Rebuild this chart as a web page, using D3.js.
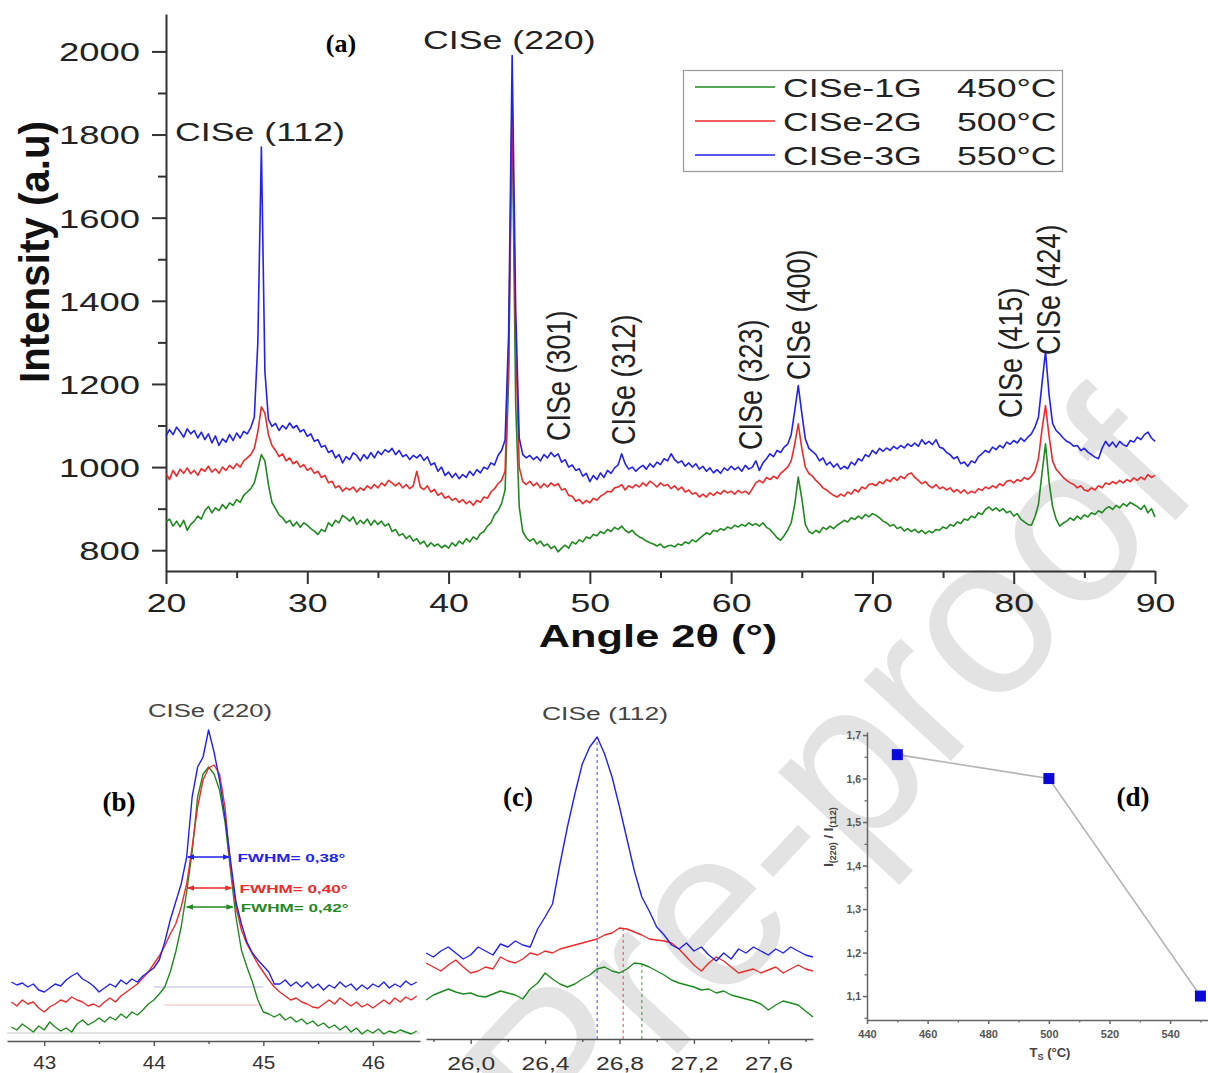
<!DOCTYPE html>
<html><head><meta charset="utf-8">
<script src="https://cdn.jsdelivr.net/npm/d3@7"></script>
<style>body{margin:0;background:#fff} svg{display:block}</style>
</head><body>
<svg id="chart" width="1208" height="1073"></svg>
<script>
// ---------------- DATA: panel (a) ----------------
const angles = [
20,20.25,20.5,20.75, 21,21.25,21.5,21.75, 22,22.25,22.5,22.75, 23,23.25,23.5,23.75, 24,24.25,24.5,24.75,
25,25.25,25.5,25.75, 26,26.25,26.5,26.75, 27,27.25,27.5,27.75, 28,28.25,28.5,28.75, 29,29.25,29.5,29.75,
30,30.25,30.5,30.75, 31,31.25,31.5,31.75, 32,32.25,32.5,32.75, 33,33.25,33.5,33.75, 34,34.25,34.5,34.75,
35,35.25,35.5,35.75, 36,36.25,36.5,36.75, 37,37.25,37.5,37.75, 38,38.25,38.5,38.75, 39,39.25,39.5,39.75,
40,40.25,40.5,40.75, 41,41.25,41.5,41.75, 42,42.25,42.5,42.75, 43,43.25,43.5,43.75, 44,44.25,44.5,44.75,
45,45.25,45.5,45.75, 46,46.25,46.5,46.75, 47,47.25,47.5,47.75, 48,48.25,48.5,48.75, 49,49.25,49.5,49.75,
50,50.25,50.5,50.75, 51,51.25,51.5,51.75, 52,52.25,52.5,52.75, 53,53.25,53.5,53.75, 54,54.25,54.5,54.75,
55,55.25,55.5,55.75, 56,56.25,56.5,56.75, 57,57.25,57.5,57.75, 58,58.25,58.5,58.75, 59,59.25,59.5,59.75,
60,60.25,60.5,60.75, 61,61.25,61.5,61.75, 62,62.25,62.5,62.75, 63,63.25,63.5,63.75, 64,64.25,64.5,64.75,
65,65.25,65.5,65.75, 66,66.25,66.5,66.75, 67,67.25,67.5,67.75, 68,68.25,68.5,68.75, 69,69.25,69.5,69.75,
70,70.25,70.5,70.75, 71,71.25,71.5,71.75, 72,72.25,72.5,72.75, 73,73.25,73.5,73.75, 74,74.25,74.5,74.75,
75,75.25,75.5,75.75, 76,76.25,76.5,76.75, 77,77.25,77.5,77.75, 78,78.25,78.5,78.75, 79,79.25,79.5,79.75,
80,80.25,80.5,80.75, 81,81.25,81.5,81.75, 82,82.25,82.5,82.75, 83,83.25,83.5,83.75, 84,84.25,84.5,84.75,
85,85.25,85.5,85.75, 86,86.25,86.5,86.75, 87,87.25,87.5,87.75, 88,88.25,88.5,88.75, 89,89.25,89.5,89.75,
90];
const cise3G = [ // blue, 550 °C
1075,1090,1078,1096, 1085,1072,1092,1080, 1088,1070,1084,1066, 1080,1058,1075,1052, 1068,1060,1078,1064,
1082,1070,1086,1080, 1095,1120,1300,1770, 1230,1115,1098,1105, 1088,1100,1092,1106, 1094,1100,1085,1090,
1074,1080,1062,1066, 1048,1052,1035,1040, 1022,1030,1010,1025, 1018,1034,1028,1015, 1030,1020,1035,1022,
1038,1030,1042,1036, 1045,1030,1040,1025, 1030,1018,1028,1022, 1030,1016,1025,1005, 1010,990,1000,980,
988,975,985,972, 982,975,990,980, 994,986,1000,995, 1010,1005,1028,1040, 1065,1320,1990,1380,
1070,1030,1022,1028, 1018,1025,1015,1030, 1022,1035,1025,1032, 1012,1018,1000,1005, 992,996,978,985,
965,980,970,986, 975,992,985,998, 1005,1032,1008,995, 1000,990,998,1004, 995,1008,1000,1012,
1006,1020,1015,1032, 1018,1010,1015,1002, 1010,1000,1008,995, 1002,990,998,986, 994,985,998,992,
1002,994,1000,990, 1004,995,1000,1015, 992,1010,1020,1032, 1025,1040,1035,1048, 1055,1078,1135,1196,
1130,1068,1045,1038, 1030,1015,1022,1005, 1012,1000,1008,995, 1002,996,1012,1005, 1020,1015,1030,1025,
1040,1032,1045,1038, 1046,1040,1050,1044, 1052,1046,1056,1050, 1058,1050,1066,1055, 1062,1054,1066,1048,
1045,1035,1030,1020, 1025,1008,1012,1002, 1015,1010,1025,1032, 1040,1035,1048,1042, 1052,1046,1060,1055,
1064,1058,1070,1062, 1072,1080,1096,1120, 1200,1278,1175,1105, 1088,1080,1070,1062, 1058,1050,1052,1040,
1045,1036,1030,1024, 1020,1045,1062,1050, 1060,1048,1062,1054, 1050,1064,1060,1072, 1066,1078,1084,1070,
1062];
const cise2G = [ // red, 500 °C
985,970,992,978, 995,985,998,984, 992,980,996,990, 1002,988,996,985, 1000,992,1004,996,
1008,1000,1015,1022, 1030,1045,1085,1145, 1130,1078,1052,1040, 1025,1032,1015,1022, 1008,1014,1000,1006,
992,998,985,990, 975,980,962,966, 950,955,942,950, 945,952,940,950, 944,955,948,958,
950,962,955,968, 962,955,962,950, 958,948,955,990, 952,946,955,940, 946,932,938,925,
930,920,925,915, 922,912,918,908, 920,915,928,925, 940,948,960,968, 990,1260,1880,1300,
1000,965,958,966, 955,962,950,960, 952,962,955,960, 945,948,932,930, 918,922,912,920,
914,925,920,930, 935,942,940,950, 952,958,945,955, 950,958,952,962, 955,966,960,952,
962,955,958,948, 955,945,952,940, 945,935,938,928, 935,928,938,932, 940,935,944,938,
942,935,944,938, 942,935,948,962, 968,962,975,970, 978,972,985,992, 1000,1015,1055,1104,
1045,1000,985,978, 968,960,950,945, 938,932,928,935, 930,940,935,946, 940,952,948,958,
960,955,965,960, 970,965,975,968, 978,972,982,986, 975,968,960,965, 955,950,958,948,
952,945,950,940, 946,938,945,936, 942,938,948,944, 952,948,955,950, 960,955,966,968,
962,970,966,975, 970,978,990,1020, 1090,1148,1075,1015, 995,985,975,968, 962,958,950,955,
945,942,950,945, 955,950,962,958, 965,960,968,962, 970,965,974,968, 976,970,982,975,
980];
const cise1G = [ // green, 450 °C
868,875,858,870, 856,872,848,862, 870,882,875,895, 905,890,902,895, 910,900,914,908,
922,915,932,940, 948,962,995,1030, 1015,958,915,900, 885,878,866,872, 858,868,855,866,
860,852,846,838, 850,845,866,858, 872,866,884,878, 870,880,862,872, 864,875,860,872,
862,870,858,864, 845,850,835,840, 828,835,822,828, 815,822,808,818, 810,815,806,812,
805,818,810,822, 815,828,820,832, 826,840,845,858, 866,885,895,912, 945,1210,1860,1150,
905,845,830,822, 828,815,822,810, 815,804,810,796, 805,812,805,820, 815,825,820,832,
828,838,835,845, 840,850,845,855, 850,858,848,842, 848,838,832,828, 822,818,815,810,
815,806,810,812, 808,815,812,820, 816,825,820,828, 835,842,838,848, 845,852,848,856,
852,860,856,862, 858,866,860,864, 858,866,855,850, 840,830,824,835, 848,866,910,976,
925,862,845,840, 848,842,855,850, 858,852,860,866, 872,868,878,874, 882,876,886,880,
888,884,878,870, 866,858,862,852, 856,846,852,845, 850,842,848,840, 846,842,850,848,
856,852,862,858, 868,864,875,872, 882,878,890,886, 898,904,896,902, 894,900,890,894,
882,888,875,868, 862,860,880,910, 985,1056,965,905, 875,858,865,870, 878,872,882,875,
885,880,890,886, 895,890,900,905, 898,908,902,912, 906,915,910,905, 898,908,890,900,
880];
const yTicksA = [800, 1000, 1200, 1400, 1600, 1800, 2000];
const yMinorA = [900, 1100, 1300, 1500, 1700, 1900];
const xTicksA = [20, 30, 40, 50, 60, 70, 80, 90];
const xMinorA = [25, 35, 45, 55, 65, 75, 85];
const seriesNames = ['CISe-1G', 'CISe-2G', 'CISe-3G'];
const seriesTemps = ['450°C', '500°C', '550°C'];
const peakLabelsRot = ['CISe (301)', 'CISe (312)', 'CISe (323)', 'CISe (400)', 'CISe (415)', 'CISe (424)'];
const peakLabelsRotPos = [48.6, 53.2, 62.2, 65.6, 80.6, 83.3];

// ---------------- DATA: panel (b) CISe (220) zoom ----------------
const anglesB = [
42.70,42.75,42.80,42.85,42.90,42.95,
43.00,43.05,43.10,43.15,43.20,43.25,43.30,43.35,43.40,43.45,
43.50,43.55,43.60,43.65,43.70,43.75,43.80,43.85,43.90,43.95,
44.00,44.05,44.10,44.15,44.20,44.25,44.30,44.35,44.40,44.45,
44.50,44.55,44.60,44.65,44.70,44.75,44.80,44.85,44.90,44.95,
45.00,45.05,45.10,45.15,45.20,45.25,45.30,45.35,45.40,45.45,
45.50,45.55,45.60,45.65,45.70,45.75,45.80,45.85,45.90,45.95,
46.00,46.05,46.10,46.15,46.20,46.25,46.30,46.35,46.40];
const blueB = [60,57,59,55,58,52,
50,54,58,56,62,66,69,63,60,56,
50,54,58,55,62,58,63,60,66,70,
74,82,100,122,140,158,185,245,275,285,
312,290,262,225,182,140,118,100,89,82,
76,70,58,58,62,56,60,55,60,54,
58,52,57,54,60,55,58,52,57,53,
58,55,60,54,58,55,61,57,60];
const redB = [40,36,42,38,40,34,
30,35,38,42,40,45,42,40,36,38,
35,40,44,40,46,50,54,58,64,70,
78,86,96,108,118,135,158,195,235,262,
274,277,268,235,175,135,112,98,88,78,
70,62,55,50,46,42,44,40,38,35,
34,38,42,38,44,40,36,40,35,38,
34,38,42,38,44,40,45,42,46];
const greenB = [15,12,18,14,10,16,
12,20,15,11,14,10,18,22,17,20,
24,20,25,22,28,24,30,27,32,38,
42,48,55,70,90,115,150,190,245,268,
275,268,252,220,172,125,92,75,60,42,
30,28,25,28,22,25,20,23,18,21,
16,19,14,17,12,16,10,14,8,12,
9,13,8,11,9,12,10,8,11];
const xTicksB = [43, 44, 45, 46];
const xMinorB = [43.5, 44.5, 45.5];
const fwhmLevel = [185, 154, 135];
const fwhmFrom = [44.31, 44.31, 44.30];
const fwhmTo = [44.69, 44.71, 44.72];
const fwhmText = ['FWHM= 0,38°', 'FWHM= 0,40°', 'FWHM= 0,42°'];
const baseLevelB = [55, 37, 9];
const baseFromB = [44.0, 44.1, 42.66];
const baseToB = [45.0, 45.0, 46.43];

// ---------------- DATA: panel (c) CISe (112) zoom ----------------
const anglesC = [
25.76,25.80,25.84,25.88,25.92,25.96,
26.00,26.04,26.08,26.12,26.16,26.20,26.24,26.28,26.32,26.36,
26.40,26.44,26.48,26.52,26.56,26.60,26.64,26.68,26.72,26.76,
26.80,26.84,26.88,26.92,26.96,27.00,27.04,27.08,27.12,27.16,
27.20,27.24,27.28,27.32,27.36,27.40,27.44,27.48,27.52,27.56,
27.60,27.64,27.68,27.72,27.76,27.80,27.84];
const blueC = [86,82,88,92,86,80,
84,92,88,84,95,92,98,94,92,110,
122,135,175,212,245,275,292,302,285,262,
232,200,168,142,128,112,104,94,90,96,
88,92,84,78,86,80,90,86,92,88,
84,90,86,92,88,84,82];
const redC = [76,72,68,74,79,72,
66,68,72,70,82,78,76,80,86,84,
88,86,90,92,94,96,98,100,104,106,
111,110,107,104,100,99,98,96,90,82,
74,68,76,82,78,72,66,68,70,66,
69,72,66,70,74,70,68];
const greenC = [39,44,47,50,47,45,
46,43,42,45,48,46,44,40,50,56,
66,60,55,52,55,60,64,70,72,68,
66,70,76,75,72,68,64,59,56,54,
52,49,50,46,48,44,42,40,38,35,
29,34,38,36,34,28,22];
const xTicksC = [26.0, 26.4, 26.8, 27.2, 27.6];
const xMinorC = [25.8, 26.2, 26.6, 27.0, 27.4, 27.8];
const peakPosC = [26.68, 26.82, 26.92];
const peakValC = [302, 111, 75];

// ---------------- DATA: panel (d) ----------------
const tempsD = [450, 500, 550];
const ratioD = [1.655, 1.60, 1.10];
const xTicksD = [440, 460, 480, 500, 520, 540];
const xMinorD = [450, 470, 490, 510, 530, 550];
const yTicksD = [1.1, 1.2, 1.3, 1.4, 1.5, 1.6, 1.7];
const yMinorD = [1.05, 1.15, 1.25, 1.35, 1.45, 1.55, 1.65];

[[angles, cise1G], [angles, cise2G], [angles, cise3G], [anglesB, blueB], [anglesB, redB], [anglesB, greenB],
 [anglesC, blueC], [anglesC, redC], [anglesC, greenC]].forEach(([a, v], i) => {
  if (a.length !== v.length) throw new Error('length mismatch in series ' + i + ': ' + a.length + ' vs ' + v.length);
});

// ---------------- DRAW ----------------
const ARIAL = 'Liberation Sans, Arial, Helvetica, sans-serif';
const TIMES = 'Liberation Serif, Times New Roman, serif';
const SX = 1.4;
const COL = {green: '#1f8a1f', red: '#ee2a2a', blue: '#2222ee'};
const svg = d3.select('#chart');

function txt(g, o) {
  const t = g.append('text')
    .attr('transform', `translate(${o.x},${o.y}) scale(${o.sx || 1},1)` + (o.rot ? ` rotate(${o.rot})` : ''))
    .attr('text-anchor', o.anchor || 'start')
    .attr('font-size', o.size).attr('font-weight', o.weight || 'normal')
    .attr('font-family', o.family || ARIAL).attr('fill', o.fill || '#222')
    .text(o.text);
  if (o.len) t.attr('textLength', o.len).attr('lengthAdjust', 'spacingAndGlyphs');
  return t;
}

// ===== Watermark (light, drawn first) =====
const wm = svg.append('text').attr('transform', 'translate(565,1175) rotate(-47)')
  .attr('font-size', 225).attr('font-family', ARIAL).attr('fill', '#e3e3e3')
  .text('Pre-proof');

// ===== Panel (a) =====
const xA = d3.scaleLinear().domain([20, 90]).range([166, 1155]);
const yA = d3.scaleLinear().domain([750, 2090]).range([571, 14]);
const gA = svg.append('g');

function styleAxis(g, color, width) {
  g.selectAll('path.domain').attr('stroke', color).attr('stroke-width', width);
  g.selectAll('.tick line').attr('stroke', color).attr('stroke-width', width);
}
gA.append('g').attr('transform', 'translate(0,571)')
  .call(d3.axisBottom(xA).tickValues(xMinorA).tickSize(7).tickFormat(''))
  .call(g => { g.select('.domain').remove(); styleAxis(g, '#333', 2); });
gA.append('g').attr('transform', 'translate(166,0)')
  .call(d3.axisLeft(yA).tickValues(yMinorA).tickSize(8).tickFormat(''))
  .call(g => { g.select('.domain').remove(); styleAxis(g, '#333', 2); });
gA.append('g').attr('transform', 'translate(0,571)')
  .call(d3.axisBottom(xA).tickValues(xTicksA).tickSize(13).tickSizeOuter(0).tickFormat(d3.format('d')))
  .call(g => {
    styleAxis(g, '#333', 2);
    g.selectAll('.tick text').attr('y', 41).attr('dy', null)
      .attr('transform', `scale(${SX},1)`).attr('font-size', 25.5).attr('font-family', ARIAL).attr('fill', '#222');
  });
gA.append('g').attr('transform', 'translate(166,0)')
  .call(d3.axisLeft(yA).tickValues(yTicksA).tickSize(14).tickSizeOuter(0).tickFormat(d3.format('d')))
  .call(g => {
    styleAxis(g, '#333', 2);
    g.selectAll('.tick text').attr('x', -26 / SX).attr('dy', '0.36em')
      .attr('transform', `scale(${SX},1)`).attr('font-size', 26).attr('font-family', ARIAL).attr('fill', '#222');
  });

const lineA = d3.line().x((d, i) => xA(angles[i])).y(d => yA(d));
[[cise1G, COL.green], [cise2G, COL.red], [cise3G, COL.blue]].forEach(([s, c]) => {
  gA.append('path').datum(s).attr('d', lineA).attr('fill', 'none').attr('stroke', c)
    .attr('stroke-width', 1.6).attr('stroke-linejoin', 'round');
});

// axis titles
txt(gA, {x: 49, y: 252, sx: 1.2, rot: -90, anchor: 'middle', size: 36, weight: 'bold', text: 'Intensity (a.u)', len: 262, fill: '#111'});
txt(gA, {x: 658, y: 647, sx: SX, anchor: 'middle', size: 31, weight: 'bold', text: 'Angle 2θ (°)', fill: '#111'});
// peak labels
txt(gA, {x: 175, y: 141, sx: SX, size: 25.5, text: 'CISe (112)'});
txt(gA, {x: 423, y: 49, sx: SX, size: 25.5, text: 'CISe (220)'});
txt(gA, {x: 341, y: 52, anchor: 'middle', size: 26, weight: 'bold', family: TIMES, text: '(a)', fill: '#000'});
const rotBottom = [441, 445, 450, 380, 418, 355];
peakLabelsRot.forEach((t, i) => {
  txt(gA, {x: xA(peakLabelsRotPos[i]), y: rotBottom[i], sx: 1.2, rot: -90, size: 27, text: t});
});
// legend
const lg = gA.append('g');
lg.append('rect').attr('x', 683.5).attr('y', 70.5).attr('width', 379).attr('height', 101)
  .attr('fill', '#fff').attr('stroke', '#9a9a9a').attr('stroke-width', 1.2);
const legCols = [COL.green, COL.red, COL.blue];
const legY = [87, 121, 155];
seriesNames.forEach((n, i) => {
  lg.append('line').attr('x1', 695).attr('x2', 775).attr('y1', legY[i]).attr('y2', legY[i])
    .attr('stroke', legCols[i]).attr('stroke-width', 1.4);
  txt(lg, {x: 783, y: legY[i] + 9.5, sx: SX, size: 25.5, text: n});
  txt(lg, {x: 957, y: legY[i] + 9.5, sx: SX, size: 25.5, text: seriesTemps[i]});
});

// ===== Panel (b) =====
const xB = d3.scaleLinear().domain([42.66, 46.43]).range([7, 420]);
const yB = d3.scaleLinear().domain([0, 342]).range([1042, 700]);
const gB = svg.append('g');
const defs = svg.append('defs');
[['blue', COL.blue], ['red', COL.red], ['green', COL.green]].forEach(([k, c]) => {
  defs.append('marker').attr('id', 'arr-' + k).attr('viewBox', '0 0 10 10').attr('refX', 9).attr('refY', 5)
    .attr('markerWidth', 7).attr('markerHeight', 7).attr('orient', 'auto-start-reverse')
    .attr('markerUnits', 'userSpaceOnUse')
    .append('path').attr('d', 'M0,1 L10,5 L0,9 Z').attr('fill', c);
});
const baseColB = ['#b9b9ee', '#f1b9b9', '#c4cec4'];
baseLevelB.forEach((v, i) => {
  gB.append('line').attr('x1', xB(baseFromB[i])).attr('x2', xB(baseToB[i])).attr('y1', yB(v)).attr('y2', yB(v))
    .attr('stroke', baseColB[i]).attr('stroke-width', 1);
});
gB.append('g').attr('transform', 'translate(0,1041)')
  .call(d3.axisBottom(xB).tickValues(xMinorB).tickSize(3).tickFormat(''))
  .call(g => { g.select('.domain').remove(); styleAxis(g, '#555', 1.4); });
gB.append('g').attr('transform', 'translate(0,1041)')
  .call(d3.axisBottom(xB).tickValues(xTicksB).tickSize(5).tickSizeOuter(0).tickFormat(d3.format('d')))
  .call(g => {
    styleAxis(g, '#555', 1.4);
    g.selectAll('.tick text').attr('y', 28).attr('dy', null).attr('transform', 'scale(1.15,1)')
      .attr('font-size', 18).attr('font-family', ARIAL).attr('fill', '#333');
  });
const lineB = d3.line().x((d, i) => xB(anglesB[i])).y(d => yB(d));
[[greenB, COL.green], [redB, COL.red], [blueB, COL.blue]].forEach(([s, c]) => {
  gB.append('path').datum(s).attr('d', lineB).attr('fill', 'none').attr('stroke', c)
    .attr('stroke-width', 1.4).attr('stroke-linejoin', 'round');
});
const fwhmKeys = ['blue', 'red', 'green'];
const fwhmCols = [COL.blue, COL.red, COL.green];
fwhmLevel.forEach((v, i) => {
  gB.append('line').attr('x1', xB(fwhmFrom[i])).attr('x2', xB(fwhmTo[i])).attr('y1', yB(v)).attr('y2', yB(v))
    .attr('stroke', fwhmCols[i]).attr('stroke-width', 1.6)
    .attr('marker-start', `url(#arr-${fwhmKeys[i]})`).attr('marker-end', `url(#arr-${fwhmKeys[i]})`);
  txt(gB, {x: xB(fwhmTo[i]) + 8, y: yB(v) + 4.5, size: 11.5, weight: 'bold', text: fwhmText[i], fill: fwhmCols[i], len: 108});
});
txt(gB, {x: 210, y: 717, anchor: 'middle', size: 18, text: 'CISe (220)', len: 124, fill: '#444'});
txt(gB, {x: 119, y: 811, anchor: 'middle', size: 27, weight: 'bold', family: TIMES, text: '(b)', fill: '#000'});

// ===== Panel (c) =====
const xC = d3.scaleLinear().domain([25.76, 27.84]).range([426, 813]);
const yC = d3.scaleLinear().domain([0, 330]).range([1039, 709]);
const gC = svg.append('g');
const fmtComma = d => d3.format('.1f')(d).replace('.', ',');
gC.append('g').attr('transform', 'translate(0,1039)')
  .call(d3.axisBottom(xC).tickValues(xMinorC).tickSize(3).tickFormat(''))
  .call(g => { g.select('.domain').remove(); styleAxis(g, '#555', 1.4); });
gC.append('g').attr('transform', 'translate(0,1039)')
  .call(d3.axisBottom(xC).tickValues(xTicksC).tickSize(5).tickSizeOuter(0).tickFormat(fmtComma))
  .call(g => {
    styleAxis(g, '#555', 1.4);
    g.selectAll('.tick text').attr('y', 31).attr('dy', null).attr('transform', 'scale(1.3,1)')
      .attr('font-size', 19).attr('font-family', ARIAL).attr('fill', '#333');
  });
const peakColC = [COL.blue, COL.red, COL.green];
peakPosC.forEach((p, i) => {
  gC.append('line').attr('x1', xC(p)).attr('x2', xC(p)).attr('y1', yC(0)).attr('y2', yC(peakValC[i]))
    .attr('stroke', peakColC[i]).attr('stroke-width', 1.2).attr('stroke-dasharray', '3,3').attr('opacity', 0.7);
});
const lineC = d3.line().x((d, i) => xC(anglesC[i])).y(d => yC(d));
[[greenC, COL.green], [redC, COL.red], [blueC, COL.blue]].forEach(([s, c]) => {
  gC.append('path').datum(s).attr('d', lineC).attr('fill', 'none').attr('stroke', c)
    .attr('stroke-width', 1.4).attr('stroke-linejoin', 'round');
});
txt(gC, {x: 605, y: 720, anchor: 'middle', size: 19, text: 'CISe (112)', len: 126, fill: '#444'});
txt(gC, {x: 518, y: 806, anchor: 'middle', size: 27, weight: 'bold', family: TIMES, text: '(c)', fill: '#000'});

// ===== Panel (d) =====
const xD = d3.scaleLinear().domain([440, 552.5]).range([867, 1208]);
const yD = d3.scaleLinear().domain([1.045, 1.707]).range([1020, 732]);
const gD = svg.append('g');
gD.append('g').attr('transform', 'translate(0,1020)')
  .call(d3.axisBottom(xD).tickValues(xMinorD).tickSize(2.5).tickFormat(''))
  .call(g => { g.select('.domain').remove(); styleAxis(g, '#666', 1.2); });
gD.append('g').attr('transform', 'translate(867,0)')
  .call(d3.axisLeft(yD).tickValues(yMinorD).tickSize(2.5).tickFormat(''))
  .call(g => { g.select('.domain').remove(); styleAxis(g, '#666', 1.2); });
gD.append('g').attr('transform', 'translate(0,1020)')
  .call(d3.axisBottom(xD).tickValues(xTicksD).tickSize(4).tickSizeOuter(0).tickFormat(d3.format('d')))
  .call(g => {
    styleAxis(g, '#666', 1.5);
    g.selectAll('.tick text').attr('y', 18).attr('dy', null)
      .attr('font-size', 11).attr('font-weight', 'bold').attr('font-family', ARIAL).attr('fill', '#555');
  });
gD.append('g').attr('transform', 'translate(867,0)')
  .call(d3.axisLeft(yD).tickValues(yTicksD).tickSize(4).tickSizeOuter(0).tickFormat(fmtComma))
  .call(g => {
    styleAxis(g, '#666', 1.5);
    g.selectAll('.tick text').attr('x', -6).attr('dy', '0.35em')
      .attr('font-size', 10.5).attr('font-weight', 'bold').attr('font-family', ARIAL).attr('fill', '#555');
  });
gD.append('path').datum(ratioD)
  .attr('d', d3.line().x((d, i) => xD(tempsD[i])).y(d => yD(d)))
  .attr('fill', 'none').attr('stroke', '#b5b5b5').attr('stroke-width', 1.6);
gD.selectAll('rect.pt').data(ratioD).join('rect').attr('class', 'pt')
  .attr('x', (d, i) => xD(tempsD[i]) - 5.5).attr('y', d => yD(d) - 5.5)
  .attr('width', 11).attr('height', 11).attr('fill', '#0a0ad8');
const yl = gD.append('text').attr('transform', 'translate(833,837) rotate(-90)')
  .attr('text-anchor', 'middle').attr('font-size', 13).attr('font-weight', 'bold')
  .attr('font-family', ARIAL).attr('fill', '#444');
yl.append('tspan').text('I');
yl.append('tspan').attr('font-size', 9).attr('dy', 3).text('(220)');
yl.append('tspan').attr('dy', -3).text(' / I');
yl.append('tspan').attr('font-size', 9).attr('dy', 3).text('(112)');
const xl = gD.append('text').attr('x', 1050).attr('y', 1057).attr('text-anchor', 'middle')
  .attr('font-size', 13).attr('font-weight', 'bold').attr('font-family', ARIAL).attr('fill', '#444');
xl.append('tspan').text('T');
xl.append('tspan').attr('font-size', 9).attr('dy', 3).text('S');
xl.append('tspan').attr('dy', -3).text(' (°C)');
txt(gD, {x: 1133, y: 806, anchor: 'middle', size: 27, weight: 'bold', family: TIMES, text: '(d)', fill: '#000'});
</script>
</body></html>
